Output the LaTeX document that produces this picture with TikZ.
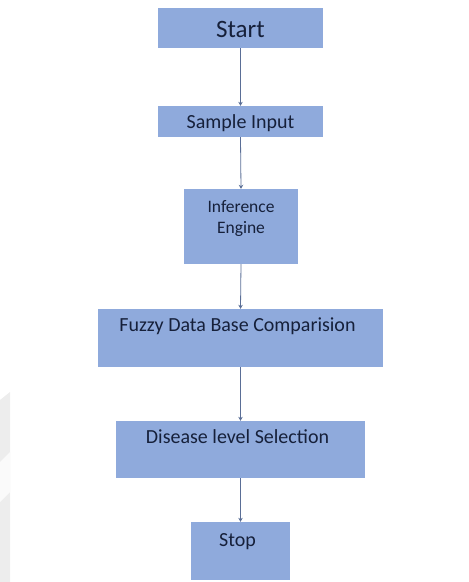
\documentclass[tikz,border=0pt]{standalone}
\usepackage{fontspec}
\setmainfont{Carlito}
\usetikzlibrary{arrows.meta}
\definecolor{boxfill}{RGB}{143,170,220}
\definecolor{txtcol}{RGB}{22,32,58}
\definecolor{arrcol}{RGB}{90,110,150}
\tikzset{
  box/.style={fill=boxfill, draw=none, inner sep=0pt},
  lbl/.style={text=txtcol, anchor=base, inner sep=0pt, font=\fontsize{20}{24}\selectfont},
  conn/.style={draw=arrcol, line width=0.8pt, -{Stealth[length=4pt,width=4.5pt]}}
}
\begin{document}
\begin{tikzpicture}[x=1pt,y=-1pt]
\useasboundingbox (0,0) rectangle (469,582);
\fill[gray!14] (0,400) -- (10,392) -- (10,582) -- (0,582) -- cycle;
\fill[white!70!gray!14] (0,462) -- (10,452) -- (10,492) -- (0,502) -- cycle;
% boxes
\node[box, minimum width=165pt, minimum height=40pt] (start) at (240.5,28) {};
\node[box, minimum width=165pt, minimum height=31pt] (sample) at (240.5,121.5) {};
\node[box, minimum width=114pt, minimum height=75pt] (infer) at (241,226.5) {};
\node[box, minimum width=285pt, minimum height=58pt] (fuzzy) at (240.5,338) {};
\node[box, minimum width=249pt, minimum height=57pt] (disease) at (240.5,449.5) {};
\node[box, minimum width=99pt, minimum height=58pt] (stop) at (240.5,551) {};
% texts
\node[lbl, font=\fontsize{25}{30}\selectfont] (tstart) at (240.5,37.5) {Start};
\node[lbl] (tsample) at (240.5,128) {Sample Input};
\node[lbl, font=\fontsize{17.5}{21}\selectfont] (tinf1) at (241,212) {Inference};
\node[lbl, font=\fontsize{17.5}{21}\selectfont] (tinf2) at (241,233) {Engine};
\node[lbl] (tfuzzy) at (237.5,331) {Fuzzy Data Base Comparision};
\node[lbl] (tdisease) at (237.5,443) {Disease level Selection};
\node[lbl] (tstop) at (237.5,546) {Stop};
% connectors
\draw[conn] (start.south) -- (sample.north);
\draw[conn] (sample.south) -- (infer.north);
\draw[conn] (infer.south) -- (fuzzy.north);
\draw[conn] (fuzzy.south) -- (disease.north);
\draw[conn] (disease.south) -- (stop.north);
\end{tikzpicture}
\end{document}
